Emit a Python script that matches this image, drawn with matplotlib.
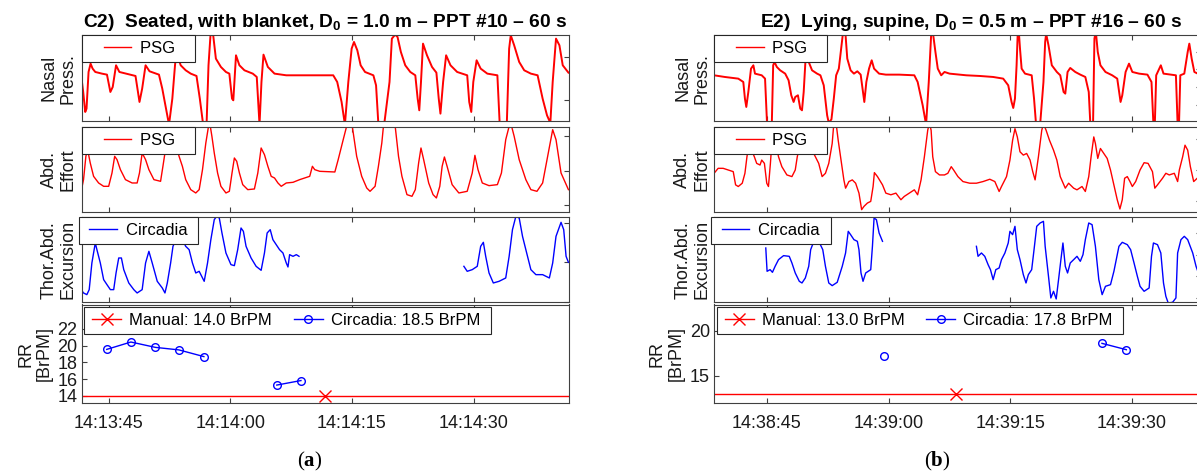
import numpy as np
import matplotlib
matplotlib.use("Agg")
import matplotlib.pyplot as plt
from matplotlib.lines import Line2D
from matplotlib.legend_handler import HandlerLine2D

plt.rcParams['font.family'] = ['Liberation Sans', 'DejaVu Sans']
plt.rcParams['mathtext.fontset'] = 'custom'
plt.rcParams['mathtext.rm'] = 'Liberation Serif'
plt.rcParams['mathtext.bf'] = 'Liberation Serif:bold'
plt.rcParams['mathtext.sf'] = 'Liberation Sans:bold'

nan = np.nan

# ---------------- (a) C2: time in s relative to 14:13:45, amplitude in arbitrary units
nasal_a_t = [-3.39, -3.14, -2.89, -2.73, -2.48, -2.23, -1.98, -1.65, -0.83, -0.21,
             0.21, 0.50, 0.91, 1.32, 2.48, 3.31, 3.80, 4.13, 4.55, 5.04,
             6.20, 6.61, 7.11, 7.44, 7.85, 8.18, 8.35, 8.88, 9.50, 10.12,
             10.83, 11.24, 11.65, 12.07, 12.31, 12.60, 12.89, 13.22, 13.84, 14.46,
             14.88, 15.21, 15.37, 15.70, 16.12, 16.74, 17.77, 18.26, 18.60, 18.84,
             19.09, 19.63, 20.45, 21.90, 25.21, 27.69, 28.18, 28.72, 29.13, 29.55,
             29.96, 30.25, 30.66, 31.07, 31.61, 32.64, 32.97, 33.26, 33.97, 34.63,
             34.92, 35.33, 35.62, 36.03, 36.57, 37.19, 37.81, 38.10, 38.30, 38.51,
             38.76, 39.25, 39.87, 40.41, 40.70, 40.91, 41.24, 41.61, 42.15, 42.97,
             44.21, 44.46, 44.71, 44.96, 45.37, 45.87, 46.69, 47.93, 48.22, 49.09,
             49.38, 49.58, 50.00, 50.62, 51.24, 52.06, 52.89, 53.51, 54.05, 54.46,
             54.75, 55.16, 55.58, 55.99, 56.69]
nasal_a_v = [138, 88, 28, 38, 148, 173, 158, 148, 143, 140,
             88, 103, 168, 148, 141, 136, 58, 98, 168, 150,
             140, 98, 33, -10, 68, 168, 208, 168, 153, 143,
             136, 68, -10, -10, 168, 275, 258, 188, 163, 148,
             143, 68, 63, 198, 168, 153, 143, 133, -10, 118,
             200, 163, 143, 138, 138, 138, 118, 58, -10, 118,
             218, 238, 213, 168, 148, 138, 108, -10, -10, 118,
             248, 260, 253, 208, 168, 148, 138, 68, 33, 118,
             233, 198, 163, 146, 68, 23, 118, 198, 168, 148,
             138, 58, 28, 118, 183, 158, 143, 138, -10, -10,
             218, 258, 228, 178, 153, 143, 138, 68, 18, -5,
             118, 248, 228, 168, 146]

abd_a_t = [-3.39, -3.10, -2.81, -2.60, -2.27, -1.86, -1.24, -0.62, 0.00, 0.41,
           0.74, 1.03, 1.45, 2.07, 2.89, 3.51, 3.80, 4.13, 4.55, 4.96,
           5.58, 6.40, 6.69, 6.94, 7.23, 7.85, 8.68, 9.09, 9.50, 10.12,
           10.74, 11.16, 11.57, 11.98, 12.31, 12.48, 12.73, 13.02, 13.43, 13.84,
           14.46, 14.88, 15.21, 15.50, 15.79, 16.12, 16.53, 17.15, 17.97, 18.39,
           18.80, 19.21, 19.63, 20.04, 20.45, 20.87, 21.28, 21.90, 22.73, 23.55,
           24.79, 25.12, 25.41, 26.03, 27.89, 28.30, 28.92, 29.34, 29.54, 29.96,
           30.16, 30.58, 31.20, 31.82, 32.23, 32.85, 33.26, 33.68, 33.88, 34.09,
           34.71, 35.33, 35.74, 36.16, 36.78, 37.40, 37.81, 38.22, 38.51, 38.84,
           39.46, 40.00, 40.41, 40.83, 41.12, 41.40, 41.73, 42.35, 43.18, 44.21,
           44.83, 45.16, 45.54, 46.07, 46.90, 47.93, 48.43, 48.96, 49.38, 49.58,
           50.00, 50.62, 51.44, 52.06, 52.81, 53.51, 54.13, 54.75, 55.16, 55.78,
           56.69]
abd_a_v = [63, 98, 168, 188, 148, 108, 88, 78, 78, 118,
           168, 158, 128, 98, 88, 88, 118, 178, 158, 128,
           98, 93, 138, 178, 198, 238, 168, 138, 98, 68,
           58, 68, 128, 208, 258, 266, 228, 178, 118, 78,
           58, 63, 118, 163, 153, 118, 83, 68, 70, 118,
           193, 173, 138, 108, 103, 88, 78, 88, 90, 98,
           108, 138, 128, 123, 121, 158, 218, 258, 270, 270,
           238, 168, 108, 73, 63, 78, 138, 208, 258, 278,
           290, 258, 168, 108, 53, 48, 68, 148, 193, 158,
           88, 53, 43, 78, 138, 166, 138, 83, 58, 63,
           118, 171, 128, 88, 80, 83, 118, 218, 258, 268,
           228, 158, 98, 68, 63, 88, 168, 248, 218, 118,
           68]

circ_a_t = [-3.39, -3.10, -2.69, -2.40, -2.07, -1.65, -1.45, -1.03, -0.62, -0.21,
            0.21, 0.62, 0.91, 1.24, 1.57, 1.86, 2.48, 3.10, 3.51, 4.13,
            4.55, 4.96, 5.37, 5.99, 6.61, 6.94, 7.23, 7.64, 7.93, 8.68,
            9.50, 9.92, 10.33, 10.74, 11.16, 11.78, 12.19, 12.60, 13.02, 13.31,
            13.64, 13.97, 14.46, 15.08, 15.50, 15.91, 16.32, 16.61, 16.94, 17.56,
            18.18, 18.80, 19.21, 19.54, 19.92, 20.25, 20.66, 21.07, 21.49, 21.90,
            22.11, 22.31, 22.73, 23.14, 23.47,
            nan,
            43.80, 44.21, 44.83, 45.45, 45.87, 46.20, 46.49, 46.90, 47.43, 48.14,
            48.96, 49.38, 49.79, 50.21, 50.62, 51.03, 51.44, 52.06, 52.68, 53.51,
            54.34, 54.75, 55.16, 55.78, 56.11, 56.40, 56.69]
circ_a_v = [38, 28, 23, 38, 118, 178, 158, 118, 68, 53,
            38, 38, 88, 133, 133, 98, 58, 38, 28, 38,
            118, 153, 118, 63, 43, 28, 58, 118, 168, 208,
            168, 158, 118, 88, 93, 63, 118, 188, 248, 258,
            253, 208, 148, 113, 110, 158, 223, 213, 168, 133,
            108, 96, 148, 208, 218, 188, 173, 158, 148, 118,
            106, 143, 138, 143, 138,
            nan,
            108, 93, 98, 108, 168, 180, 138, 88, 58, 63,
            73, 138, 218, 258, 253, 198, 158, 98, 83, 83,
            73, 118, 198, 240, 218, 138, 120]

rr_a_t = [-0.24, 2.74, 5.77, 8.66, 11.74, nan, 20.73, 23.71]
rr_a_v = [19.56, 20.44, 19.8, 19.5, 18.7, nan, 15.3, 15.84]
manual_a_t = [26.64]
manual_a = 14.0

# ---------------- (b) E2: time in s relative to 14:38:45
nasal_b_t = [-6.49, -5.17, -3.51, -2.89, -2.69, -2.52, -2.27, -1.94, -1.65, -1.45,
             -0.62, -0.21, 0.04, 0.62, 0.79, 0.95, 1.24, 1.65, 2.27, 2.69,
             3.02, 3.31, 3.51, 3.84, 4.13, 4.34, 4.55, 4.83, 5.17, 5.58,
             6.20, 6.61, 7.02, 7.44, 7.64, 7.97, 8.26, 8.55, 8.88, 9.21,
             9.38, 9.71, 9.92, 10.33, 10.74, 11.16, 11.57, 11.86, 12.02, 12.27,
             12.60, 12.93, 13.22, 13.84, 14.67, 16.32, 18.18, 18.59, 19.21, 19.63,
             19.96, 20.25, 20.45, 20.78, 21.07, 21.49, 21.90, 22.52, 24.59, 26.24,
             27.89, 29.13, 29.75, 30.16, 30.37, 30.58, 30.78, 30.91, 31.03, 31.20,
             31.40, 31.82, 32.64, 32.93, 33.18, 33.68, 34.09, 34.30, 34.42, 34.71,
             35.12, 35.74, 36.16, 36.57, 36.78, 37.06, 37.39, 38.01, 38.63, 39.25,
             39.67, 39.87, 40.20, 40.37, 40.54, 40.78, 41.11, 41.73, 42.56, 43.18,
             43.59, 43.80, 44.21, 44.63, 45.04, 45.87, 46.90, 47.40, 47.64, 47.81,
             47.98, 48.35, 48.55, 48.88, 49.79, 50.41, 50.62, 50.79, 50.95, 51.44,
             51.86, 52.06, 52.35, 52.68, 53.10, 53.51]
nasal_b_v = [138, 133, 128, 118, 68, 43, 88, 158, 168, 143,
             138, 128, -10, -10, 168, 178, 163, 153, 143, 123,
             78, 58, 73, 78, 38, 33, 88, 208, 178, 153,
             143, 138, 108, 18, -5, 6, 68, 138, 158, 228,
             263, 258, 188, 153, 143, 150, 140, 88, 58, 118,
             158, 183, 158, 143, 140, 140, 138, 118, 48, -10,
             118, 258, 270, 208, 158, 138, 148, 143, 138, 136,
             133, 128, 108, 58, 40, 68, 168, 258, 278, 218,
             158, 143, 138, 68, -10, -10, 118, 238, 263, 228,
             168, 148, 138, 88, 83, 148, 160, 148, 140, 133,
             88, -10, -10, 248, 270, 208, 168, 148, 138, 128,
             58, 78, 148, 173, 148, 143, 140, 118, -10, -10,
             138, 158, 168, 143, 140, 138, -10, -10, 138, 143,
             208, 233, 188, 148, 143, 138]

abd_b_t = [-6.49, -5.99, -5.37, -4.75, -4.13, -3.84, -3.51, -3.02, -2.69, -2.44,
           -2.19, -1.86, -1.53, -1.24, -0.83, -0.62, -0.29, 0.00, 0.21, 0.45,
           0.62, 1.03, 1.45, 1.86, 2.48, 3.10, 3.51, 3.76, 4.13, 5.17,
           5.99, 6.40, 6.82, 7.23, 7.64, 8.06, 8.26, 8.55, 8.80, 9.21,
           9.50, 9.71, 10.12, 10.54, 10.95, 11.36, 11.69, 11.98, 12.40, 12.81,
           13.10, 13.26, 13.64, 14.26, 14.67, 15.29, 15.91, 16.53, 16.94, 17.56,
           18.18, 18.59, 19.01, 19.42, 19.83, 20.04, 20.25, 20.45, 20.78, 21.28,
           21.90, 22.31, 22.73, 23.02, 23.55, 24.17, 25.00, 25.83, 26.65, 27.48,
           28.10, 28.63, 28.92, 29.54, 29.96, 30.29, 30.58, 30.87, 31.20, 31.61,
           32.02, 32.44, 32.77, 33.06, 33.47, 33.88, 34.09, 34.42, 34.83, 35.33,
           35.74, 36.16, 36.78, 37.19, 37.81, 38.22, 38.84, 39.25, 39.67, 39.96,
           40.29, 40.49, 40.78, 41.11, 41.53, 41.94, 42.35, 42.77, 43.18, 43.51,
           43.80, 44.09, 44.42, 44.75, 45.04, 45.45, 45.99, 46.49, 46.98, 47.52,
           47.81, 48.14, 48.76, 49.17, 49.59, 50.21, 50.62, 50.83, 51.24, 51.53,
           51.86, 52.19, 52.60, 53.02, 53.51]
abd_b_v = [118, 133, 133, 128, 123, 83, 78, 88, 118, 168,
           208, 188, 168, 148, 143, 158, 148, 88, 78, 148,
           208, 218, 168, 138, 113, 108, 128, 168, 208, 208,
           168, 148, 108, 118, 148, 208, 268, 268, 218, 148,
           98, 73, 93, 98, 88, 58, 8, 18, 28, 33,
           78, 120, 108, 83, 58, 53, 58, 38, 48, 58,
           68, 53, 98, 168, 248, 270, 248, 168, 123, 113,
           113, 118, 138, 128, 108, 93, 88, 88, 93, 100,
           93, 63, 78, 108, 158, 218, 253, 228, 183, 173,
           178, 158, 123, 98, 168, 248, 268, 248, 218, 188,
           158, 108, 73, 88, 73, 68, 78, 63, 108, 168,
           228, 208, 163, 193, 178, 163, 128, 83, 38, 10,
           38, 103, 108, 93, 78, 93, 128, 150, 148, 123,
           73, 83, 103, 118, 113, 118, 93, 128, 168, 203,
           188, 138, 93, 103, 113]

circ_b_t = [-0.12, 0.04, 0.41, 0.70, 1.03, 1.45, 2.07, 2.77, 3.10, 3.51,
            4.01, 4.34, 4.75, 5.17, 5.41, 6.07, 6.90, 7.23, 7.64, 8.06,
            8.68, 9.30, 9.71, 10.04, 10.33, 10.74, 11.16, 11.36, 11.61, 11.86,
            12.19, 12.81, 13.02, 13.22, 13.51, 13.84, 14.26,
            nan,
            25.83, 26.03, 26.45, 26.86, 27.27, 27.56, 27.89, 28.22, 28.63, 28.92,
            29.34, 29.75, 29.96, 30.29, 30.58, 30.87, 31.20, 31.61, 31.94, 32.23,
            32.64, 32.93, 33.26, 33.68, 34.09, 34.30, 34.71, 35.00, 35.33, 35.66,
            35.95, 36.24, 36.49, 36.78, 37.06, 37.39, 37.81, 38.22, 38.63, 38.96,
            39.25, 39.67, 40.08, 40.49, 40.91, 41.32, 41.73, 42.35, 42.77, 43.39,
            43.80, 44.42, 44.83, 45.25, 45.66, 45.99, 46.49, 47.11, 47.40, 47.64,
            48.14, 48.55, 48.88, 49.17, 49.46, 50.00, 50.41, 50.62, 51.03, 51.44,
            51.86, 52.48, 52.89, 53.18, 53.51]
circ_b_v = [163, 93, 98, 90, 108, 128, 140, 138, 118, 88,
            63, 58, 73, 108, 158, 200, 158, 108, 58, 50,
            60, 108, 148, 213, 203, 188, 183, 158, 88, 63,
            88, 98, 168, 253, 248, 208, 183,
            nan,
            168, 138, 148, 138, 113, 98, 68, 98, 103, 128,
            148, 178, 213, 203, 228, 158, 128, 83, 58, 83,
            98, 158, 228, 238, 243, 168, 78, 13, 33, 10,
            68, 128, 178, 108, 88, 118, 128, 138, 123, 143,
            188, 238, 233, 168, 68, 23, 48, 53, 93, 168,
            180, 173, 158, 118, 78, 48, 33, 43, 138, 178,
            173, 148, 58, 18, -2, 0, 13, 148, 188, 198,
            188, 148, 108, 88, 98]

rr_b_t = [14.44, nan, 41.3, 44.3]
rr_b_v = [17.15, nan, 18.6, 17.9]
manual_b_t = [23.35]
manual_b = 13.0

# ---------------- labels / ticks
xtick_s = [0, 15, 30, 45]
xtick_lab_a = ['14:13:45', '14:14:00', '14:14:15', '14:14:30']
xtick_lab_b = ['14:38:45', '14:39:00', '14:39:15', '14:39:30']
rr_ticks_a = [14, 16, 18, 20, 22]
rr_ticks_b = [15, 20]
title_a = r"C2)  Seated, with blanket, D$_\mathsf{0}$ = 1.0 m – PPT #10 – 60 s"
title_b = r"E2)  Lying, supine, D$_\mathsf{0}$ = 0.5 m – PPT #16 – 60 s"
row_labels = ["Nasal\nPress.", "Abd.\nEffort", "Thor.Abd.\nExcursion", "RR\n[BrPM]"]
rr_leg_a = ["Manual: 14.0 BrPM", "Circadia: 18.5 BrPM"]
rr_leg_b = ["Manual: 13.0 BrPM", "Circadia: 17.8 BrPM"]

RED, BLUE, AXC = '#ff0000', '#0000ff', '#404040'
NB = '\u00a0'
W, H = 1197, 472
fig = plt.figure(figsize=(W / 100, H / 100), dpi=100)


def rect(x0, x1, y0, y1):
    return [x0 / W, 1 - y1 / H, (x1 - x0) / W, (y1 - y0) / H]


COLS = [(81.5, 568.5), (714.0, 1201.0)]
ROWS = [(35.3, 121.3), (127.0, 212.3), (217.0, 302.3), (304.5, 403.0)]


def frame(ax, xlim):
    ax.set_xlim(xlim)
    ax.set_xticks(xtick_s)
    for s in ax.spines.values():
        s.set_color(AXC)
        s.set_linewidth(0.8)
    ax.tick_params(axis='both', direction='in', length=3.5, width=0.8,
                   color=AXC, labelsize=13, labelcolor='#1a1a1a')
    ax.tick_params(axis='x', top=True, bottom=True)


def sig_panel(col, row, t, v, ylim, yt, color, lw, leglab, xpad, extra, x0, labx):
    ax = fig.add_axes(rect(*COLS[col], *ROWS[row]))
    frame(ax, xlims[col])
    ax.plot(t, v, color=color, lw=lw)
    ax.set_ylim(ylim)
    ax.set_yticks(yt)
    ax.tick_params(axis='y', left=False, right=True, labelleft=False)
    ax.tick_params(axis='x', labelbottom=False)
    ax.set_ylabel(row_labels[row], fontsize=13, linespacing=1.15, color='#1a1a1a')
    ax.yaxis.set_label_coords(labx, 0.5)
    h = Line2D([], [], color=color, lw=1.0)
    leg = ax.legend([h], [leglab + NB * extra], loc='upper left',
                    bbox_to_anchor=(x0, 1.0), borderaxespad=0, fontsize=12,
                    frameon=True, fancybox=False, framealpha=1,
                    edgecolor='#262626', borderpad=0.35,
                    handlelength=1.65 + xpad, handletextpad=0.54,
                    handler_map={h: HandlerLine2D(xpad=xpad)})
    leg.get_frame().set_linewidth(0.8)
    return ax


xlims = [(-3.35, 56.7), (-6.5, 53.5)]
sig_x = [-0.01, -0.008]
rr_x = [-0.0585, -0.06]

sig_panel(0, 0, nasal_a_t, nasal_a_v, (0, 258), [63, 193], RED, 1.4, 'PSG', 0.97, 3, 0, sig_x[0])
sig_panel(0, 1, abd_a_t, abd_a_v, (0, 256), [23, 125, 228], RED, 1.0, 'PSG', 0.97, 3, 0, sig_x[0])
sig_panel(0, 2, circ_a_t, circ_a_v, (0, 256), [0, 120, 238], BLUE, 1.0, 'Circadia', 0.29, 1, -0.0055, sig_x[0])
sig_panel(1, 0, nasal_b_t, nasal_b_v, (0, 258), [48, 103, 158, 208], RED, 1.4, 'PSG', 0.97, 3, 0, sig_x[1])
sig_panel(1, 1, abd_b_t, abd_b_v, (0, 258), [33, 128, 223], RED, 1.0, 'PSG', 0.97, 3, 0, sig_x[1])
sig_panel(1, 2, circ_b_t, circ_b_v, (0, 256), [13, 78, 143, 208], BLUE, 1.0, 'Circadia', 0.29, 1, -0.0055, sig_x[1])


def rr_panel(col, rt, rv, mt, mv, ylim, yt, xlab, leglabs):
    ax = fig.add_axes(rect(*COLS[col], *ROWS[3]))
    frame(ax, xlims[col])
    ax.axhline(mv, color=RED, lw=1.0)
    ax.plot(mt, [mv] * len(mt), 'x', color=RED, ms=8, mew=1.0)
    ax.plot(rt, rv, '-o', color=BLUE, lw=1.0, ms=5.5, mfc='none', mew=1.0)
    ax.set_ylim(ylim)
    ax.set_yticks(yt)
    ax.set_xticklabels(xlab)
    ax.tick_params(axis='x', pad=8.5)
    ax.tick_params(axis='y', left=True, right=False, pad=3)
    ax.set_ylabel(row_labels[3], fontsize=13, linespacing=1.15, color='#1a1a1a')
    ax.yaxis.set_label_coords(rr_x[col], 0.5)
    h1 = Line2D([], [], color=RED, marker='x', ms=8, mew=1.0, lw=1.0)
    h2 = Line2D([], [], color=BLUE, marker='o', ms=5.5, mfc='none', mew=1.0, lw=1.0)
    leg = ax.legend([h1, h2], [leglabs[0], leglabs[1] + NB], ncol=2,
                    loc='upper left', bbox_to_anchor=(0, 1.0), borderaxespad=0.15,
                    fontsize=12, frameon=True, fancybox=False, framealpha=1,
                    edgecolor='#262626', borderpad=0.35,
                    handlelength=1.74 + 0.13, handletextpad=0.48, columnspacing=1.2,
                    handler_map={h1: HandlerLine2D(xpad=0.13), h2: HandlerLine2D(xpad=0.13)})
    leg.get_frame().set_linewidth(0.8)
    return ax


rr_panel(0, rr_a_t, rr_a_v, manual_a_t, manual_a, (13.16, 24.92), rr_ticks_a, xtick_lab_a, rr_leg_a)
rr_panel(1, rr_b_t, rr_b_v, manual_b_t, manual_b, (12.0, 22.9), rr_ticks_b, xtick_lab_b, rr_leg_b)

fig.text(325 / W, 1 - 22.5 / H, title_a, fontsize=13.8, fontweight='bold', ha='center', va='center')
fig.text(971 / W, 1 - 22.5 / H, title_b, fontsize=13.8, fontweight='bold', ha='center', va='center')
fig.text(310 / W, 1 - 461 / H, r'($\mathbf{a}$)', fontsize=15, family='Liberation Serif', ha='center', va='center')
fig.text(937 / W, 1 - 461 / H, r'($\mathbf{b}$)', fontsize=15, family='Liberation Serif', ha='center', va='center')

fig.savefig('out.png', dpi=100)
